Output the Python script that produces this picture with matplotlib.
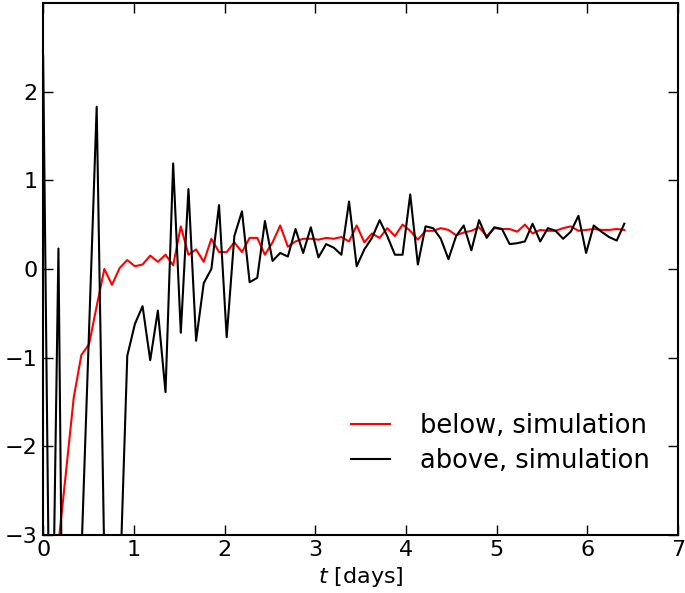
import numpy as np
import matplotlib
matplotlib.use('Agg')
import matplotlib.pyplot as plt

# time grid (days), 77 samples
dt_days = 0.0843
n_pts = 77

# values far outside [-3, 3] are off-scale in the reference
below_sim = [-7.0, -4.5, -3.1, -2.28, -1.45, -0.97, -0.85, -0.42, 0.0, -0.18,
             0.01, 0.10, 0.03, 0.05, 0.15, 0.08, 0.16, 0.04, 0.48, 0.16,
             0.22, 0.08, 0.34, 0.19, 0.19, 0.30, 0.19, 0.35, 0.35, 0.16,
             0.30, 0.49, 0.25, 0.31, 0.34, 0.34, 0.33, 0.35, 0.34, 0.36,
             0.31, 0.49, 0.30, 0.40, 0.35, 0.46, 0.37, 0.50, 0.43, 0.33,
             0.43, 0.43, 0.46, 0.44, 0.38, 0.41, 0.43, 0.47, 0.37, 0.46,
             0.45, 0.45, 0.42, 0.50, 0.40, 0.44, 0.43, 0.43, 0.46, 0.48,
             0.43, 0.44, 0.45, 0.44, 0.44, 0.45, 0.44]

above_sim = [2.4, -5.6, 0.23, -8.5, -6.0, -3.23, -0.7, 1.83, -3.3, -6.0,
             -3.67, -0.98, -0.62, -0.42, -1.03, -0.47, -1.39, 1.19, -0.72, 0.90,
             -0.81, -0.16, 0.0, 0.72, -0.77, 0.37, 0.65, -0.15, -0.10, 0.54,
             0.09, 0.18, 0.14, 0.45, 0.18, 0.47, 0.13, 0.28, 0.24, 0.16,
             0.76, 0.03, 0.22, 0.35, 0.55, 0.37, 0.16, 0.16, 0.84, 0.05,
             0.48, 0.46, 0.34, 0.11, 0.37, 0.49, 0.21, 0.55, 0.35, 0.47,
             0.45, 0.28, 0.29, 0.31, 0.51, 0.31, 0.46, 0.43, 0.34, 0.42,
             0.60, 0.18, 0.49, 0.42, 0.36, 0.32, 0.51]

t = np.arange(n_pts) * dt_days

plt.rcParams['font.size'] = 16
plt.rcParams['xtick.direction'] = 'in'
plt.rcParams['ytick.direction'] = 'in'

fig = plt.figure(figsize=(6.85, 5.93), dpi=100)
ax = fig.add_axes([0.063, 0.098, 0.927, 0.897])

ax.plot(t, below_sim, color='red', lw=1.5, label='below, simulation')
ax.plot(t, above_sim, color='black', lw=1.5, label='above, simulation')

ax.set_xlim(0, 7)
ax.set_ylim(-3, 3)
ax.set_yticks([-3, -2, -1, 0, 1, 2])
ax.set_xticks(range(8))
ax.tick_params(top=True, right=True, length=7, width=1, pad=4)
for s in ax.spines.values():
    s.set_linewidth(1.5)

ax.set_xlabel('$t$ [days]', labelpad=3)
ax.legend(loc='lower right', bbox_to_anchor=(0.955, 0.115), frameon=False,
          fontsize=18.5, borderpad=0, borderaxespad=0, handlelength=1.52,
          handletextpad=1.17, labelspacing=0.35)

fig.savefig('out.png', dpi=100)
